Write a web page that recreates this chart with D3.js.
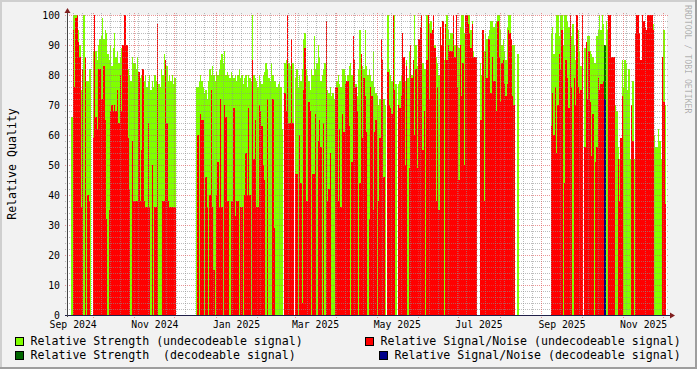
<!DOCTYPE html>
<html>
<head>
<meta charset="utf-8">
<script src="https://cdn.jsdelivr.net/npm/d3@7"></script>
<style>
  body { margin: 0; background: #f2f2f2; }
  svg { display: block; font-family: "DejaVu Sans Mono", monospace; }
</style>
</head>
<body>
<svg id="chart" width="697" height="369"></svg>
<script>
// one value per day, day 0 = 2024-09-12 (UTC), null = no data
let strength = [
  null, null, null, 66, 100, 100, 100, 100, 95, 90,
  75, 80, 100, 86, 78, 78, 82, 82, null, 88,
  100, 88, 85, 90, 92, 93, 99, 92, 95, 94,
  87, 85, 90, 83, 89, 94, 86, 88, 84, 86,
  89, 90, 86, 100, 88, 82, 80, 78, 86, 84,
  84, 82, 86, 80, 79, 80, 82, 78, 80, 76,
  78, 80, 75, 78, 76, 80, 78, 76, 77, 76,
  82, 80, 87, 84, 83, 78, 80, 78, 80, 77,
  79, null, null, null, null, null, null, null, null, null,
  null, null, null, null, null, null, 76, 76, 78, 80,
  78, 76, 74, 75, 72, 78, 82, 80, 83, 80,
  78, 81, 80, 82, 85, 87, 84, 88, 80, 81,
  80, 79, 81, 80, 79, 80, 78, 80, 82, 79,
  80, 77, 79, 80, 76, 80, 79, 78, 100, 80,
  79, 78, 76, 80, 78, 77, 80, 81, 84, 82,
  79, 78, 84, 80, 78, 78, 76, 77, 78, 76,
  62, null, 84, 85, 100, 84, 83, 87, 84, null,
  79, 82, 76, 80, 78, 82, 92, 94, 82, 80,
  78, 75, 82, 80, 93, 82, 84, 90, 86, 78,
  80, 82, 84, 78, 75, 74, 76, 73, 74, 72,
  76, 78, 80, 77, 76, 82, 82, 80, 78, 80,
  83, 84, 80, 78, 82, 77, 73, 82, 95, 80,
  83, 82, 95, 83, 80, 82, 80, 78, 88, 76,
  74, 73, 70, 72, 68, 73, 72, 70, null, 100,
  82, 80, 78, 79, 100, 77, null, 77, 78, 80,
  75, 81, 78, 85, 79, 88, 82, 80, 85, 100,
  90, 83, 79, 75, 85, 84, 82, 82, 100, 95,
  97, 98, 85, 100, 90, 86, 84, 80, 82, 75,
  88, 85, 80, 100, 95, 92, 94, 94, 100, 90,
  96, 90, 89, 96, 100, 100, 94, 100, 100, 100,
  100, 95, 98, 88, 86, 86, null, null, 84, 80,
  93, 88, 94, 92, 93, 95, 98, 98, 96, 97,
  98, 100, 100, 95, 90, 92, 88, 85, 96, 100,
  100, 92, 90, 90, null, null, 87, null, null, null,
  null, null, null, null, null, null, null, null, null, null,
  null, null, null, null, null, null, null, null, null, null,
  null, 94, 96, 87, 94, 100, 100, 93, 100, 100,
  90, 100, 100, 98, 96, 100, 93, 97, 90, 85,
  100, 95, 88, 83, 85, null, 89, 89, 93, 93,
  88, 87, 86, 84, 84, 93, 95, 100, 95, 100,
  97, null, 98, 95, 90, 86, 85, 80, 78, 70,
  68, 56, 52, 56, 85, 76, 85, 84, 75, 82,
  52, 57, 78, 52, 94, 100, 100, 86, 80, 100,
  96, 95, 94, 100, 98, 96, 100, 97, 60, 56,
  56, 62, 58, 52, 86, 95, 70
];

let snr = [
  null, null, null, null, 95, 76, 99, 100, 91, 86,
  36, 82, null, 86, null, 40, 38, null, null, 59,
  100, 66, 62, 82, 82, 72, 72, 83, 65, 32,
  null, 35, 68, 70, 68, 70, 68, 75, 64, 80,
  68, 90, 100, 100, 90, 59, 42, null, 58, 38,
  38, 38, 38, 81, 38, 55, 82, 38, 36, 36,
  64, 36, null, 50, null, 36, 36, 97, null, null,
  null, 38, 38, 85, 64, 38, 36, 36, 36, 36,
  36, null, null, null, null, null, null, null, null, null,
  null, null, null, null, null, null, null, 60, null, 67,
  65, 65, null, 46, 36, null, 40, 75, 36, 15,
  null, 40, 51, 36, 72, 36, null, 70, 66, 38,
  38, null, 38, 38, 69, 33, 38, 38, null, 36,
  36, null, 40, 54, 40, 69, 40, null, 85, 52,
  65, 36, 36, 70, 68, 63, 50, 45, null, 72,
  null, null, null, 72, 29, null, null, null, null, null,
  null, null, 74, 68, 100, 64, 64, 92, 64, null,
  47, 47, null, 60, 44, 4, 75, 89, 38, 38,
  71, 68, null, 47, 47, 67, null, 58, 65, 56,
  null, 64, null, 98, 38, 42, 54, null, null, null,
  76, 76, 38, 62, 36, 67, 61, 77, 78, 78,
  63, null, 51, 93, 85, 76, 68, null, 44, 87,
  59, 79, 73, 61, null, 32, 76, 73, 35, 61,
  65, null, 38, 59, 92, 85, 46, null, null, 81,
  70, 69, 67, 100, 75, null, null, 70, 69, 73,
  94, 86, 50, 83, null, 49, 90, 79, 85, 60,
  82, 49, 92, 96, 100, 55, 68, null, 85, 100,
  72, 94, 95, 100, 89, 38, 76, 35, 96, 90,
  98, null, 97, 85, 90, 88, 88, 88, 100, 86,
  100, 76, 45, 90, 73, 84, 50, 100, 100, 97,
  94, 89, 97, 86, 86, 86, null, null, 65, 65,
  95, 38, 88, 79, 92, 92, 74, 86, 78, 78,
  68, 98, 86, 71, 84, 85, 77, 73, 77, 95,
  94, 92, 73, 70, null, null, null, null, null, null,
  null, null, null, null, null, null, null, null, null, null,
  null, null, null, null, null, null, null, null, null, null,
  null, 63, 74, 60, 76, 54, 70, 87, 82, 95,
  null, 44, 85, 79, 69, 100, 76, null, 79, 70,
  100, 76, 74, 75, 100, null, 56, 91, 72, 88,
  71, 53, 67, null, 51, 56, 79, 75, 77, 77,
  78, null, null, null, 100, 100, 86, 86, 86, null,
  null, 52, 38, 59, 73, null, null, null, null, null,
  null, 70, 58, null, 94, 100, 100, 94, 85, 100,
  98, 96, 95, 100, 100, 100, 100, 95, null, null,
  null, null, null, null, 86, 71, 37
];

// decodeable signal, only one day has it
let decodedDays = [401];
let strengthDecoded = [90];
let snrDecoded = [72];

let monthLabels = ["2024-09", "2024-11", "2025-01", "2025-03", "2025-05", "2025-07", "2025-09", "2025-11"];
let yTicks = [0, 10, 20, 30, 40, 50, 60, 70, 80, 90, 100];

let legendNames = [
  "Relative Strength (undecodeable signal)",
  "Relative Signal/Noise (undecodeable signal)",
  "Relative Strength  (decodeable signal)",
  "Relative Signal/Noise (decodeable signal)"
];
let seriesColors = ["#80ff00", "#ff0000", "#006600", "#000088"];

//layout
let W = 697, H = 369;
let plotL = 67, plotR = 667, plotT = 15, plotB = 315;
let dayMs = 864e5;
let firstDay = Date.UTC(2024, 8, 12);
let viewStart = Date.UTC(2024, 8, 11, 19);
let spanDays = 448;

let svg = d3.select("#chart");

let x = d3.scaleUtc()
    .domain([new Date(viewStart), new Date(viewStart + spanDays * dayMs)])
    .range([plotL, plotR]);

let y = d3.scaleLinear()
    .domain([0, 100])
    .range([plotB, plotT]);

function dayDate(d) { return new Date(firstDay + d * dayMs); }

//background + bevel
svg.append("rect").attr("width", W).attr("height", H).attr("fill", "#f2f2f2");
svg.append("rect").attr("x", 0).attr("y", 0).attr("width", W).attr("height", 2).attr("fill", "#cfcfcf");
svg.append("rect").attr("x", 0).attr("y", 0).attr("width", 2).attr("height", H).attr("fill", "#cfcfcf");
svg.append("rect").attr("x", 0).attr("y", H - 2).attr("width", W).attr("height", 2).attr("fill", "#9e9e9e");
svg.append("rect").attr("x", W - 2).attr("y", 0).attr("width", 2).attr("height", H).attr("fill", "#9e9e9e");

//canvas
svg.append("rect")
    .attr("x", plotL).attr("y", plotT)
    .attr("width", plotR - plotL).attr("height", plotB - plotT)
    .attr("fill", "#ffffff");

let bars = svg.append("g").attr("shape-rendering", "crispEdges");

function drawSeries(values, days, color) {
    let items = values
        .map(function(v, i) { return { day: days ? days[i] : i, v: v }; })
        .filter(function(d) { return d.v != null; });

    bars.append("g").selectAll("rect")
        .data(items)
        .enter()
        .append("rect")
        .attr("x", function(d) { return Math.round(x(dayDate(d.day))); })
        .attr("width", function(d) {
            return Math.max(1, Math.round(x(dayDate(d.day + 1))) - Math.round(x(dayDate(d.day))));
        })
        .attr("y", function(d) { return Math.round(y(d.v)); })
        .attr("height", function(d) { return plotB - Math.round(y(d.v)); })
        .attr("fill", color);
}

drawSeries(strength, null, seriesColors[0]);
drawSeries(snr, null, seriesColors[1]);
drawSeries(strengthDecoded, decodedDays, seriesColors[2]);
drawSeries(snrDecoded, decodedDays, seriesColors[3]);

//grid on top
let minorCol = "rgba(143,143,143,0.6)";
let majorCol = "rgba(222,79,79,0.6)";
let grid = svg.append("g").attr("fill", "none").attr("stroke-width", 1);

let months = d3.utcMonth.range(x.domain()[0], x.domain()[1]);
let monthX = months.map(function(m) { return Math.round(x(m)); });
let weeks = d3.utcMonday.range(x.domain()[0], x.domain()[1])
    .filter(function(w) { return monthX.indexOf(Math.round(x(w))) < 0; });

grid.selectAll(".wk")
    .data(weeks)
    .enter()
    .append("line")
    .attr("x1", function(d) { return Math.round(x(d)) + 0.5; })
    .attr("x2", function(d) { return Math.round(x(d)) + 0.5; })
    .attr("y1", plotT - 2)
    .attr("y2", plotB + 2)
    .attr("stroke", minorCol)
    .attr("stroke-dasharray", "1,1");

let yMinor = d3.range(2, 100, 2).filter(function(v) { return v % 10 != 0; });
grid.selectAll(".ym")
    .data(yMinor)
    .enter()
    .append("line")
    .attr("x1", plotL - 2)
    .attr("x2", plotR + 2)
    .attr("y1", function(d) { return y(d) + 0.5; })
    .attr("y2", function(d) { return y(d) + 0.5; })
    .attr("stroke", minorCol)
    .attr("stroke-dasharray", "1,1");

grid.selectAll(".mo")
    .data(months)
    .enter()
    .append("line")
    .attr("x1", function(d) { return Math.round(x(d)) + 0.5; })
    .attr("x2", function(d) { return Math.round(x(d)) + 0.5; })
    .attr("y1", plotT - 2)
    .attr("y2", plotB + 3)
    .attr("stroke", majorCol)
    .attr("stroke-dasharray", "1,1");

grid.selectAll(".yM")
    .data(yTicks.filter(function(v) { return v > 0; }))
    .enter()
    .append("line")
    .attr("x1", plotL - 2)
    .attr("x2", plotR + 2)
    .attr("y1", function(d) { return y(d) + 0.5; })
    .attr("y2", function(d) { return y(d) + 0.5; })
    .attr("stroke", majorCol)
    .attr("stroke-dasharray", "1,1");

//axis lines + arrows
svg.append("line")
    .attr("x1", plotL - 2).attr("x2", plotR + 4)
    .attr("y1", plotB + 0.5).attr("y2", plotB + 0.5)
    .attr("stroke", "#20204a");
svg.append("line")
    .attr("x1", plotL + 0.5).attr("x2", plotL + 0.5)
    .attr("y1", plotB + 2).attr("y2", plotT - 4)
    .attr("stroke", "#444444");
svg.append("path")
    .attr("d", `M${plotR + 3},${plotB - 2.5}L${plotR + 8},${plotB + 0.5}L${plotR + 3},${plotB + 3.5}Z`)
    .attr("fill", "#801f1f");
svg.append("path")
    .attr("d", `M${plotL - 2.5},${plotT - 2}L${plotL + 0.5},${plotT - 7}L${plotL + 3.5},${plotT - 2}Z`)
    .attr("fill", "#801f1f");

//tick labels
let fmt = d3.utcFormat("%b %Y");
let xAxis = d3.axisBottom(x)
    .tickValues(monthLabels.map(function(m) {
        let p = m.split("-");
        return new Date(Date.UTC(+p[0], +p[1] - 1, 1) + 15 * dayMs);
    }))
    .tickFormat(fmt)
    .tickSize(0)
    .tickPadding(6);

let gx = svg.append("g")
    .attr("transform", `translate(0,${plotB})`)
    .call(xAxis);
gx.select(".domain").remove();
gx.selectAll("text")
    .attr("font-family", "DejaVu Sans Mono")
    .attr("font-size", "9.8px")
    .attr("fill", "#000");

let yAxis = d3.axisLeft(y)
    .tickValues(yTicks)
    .tickSize(0)
    .tickPadding(7);

let gy = svg.append("g")
    .attr("transform", `translate(${plotL},0)`)
    .call(yAxis);
gy.select(".domain").remove();
gy.selectAll("text")
    .attr("font-family", "DejaVu Sans Mono")
    .attr("font-size", "9.8px")
    .attr("fill", "#000");

//vertical title
svg.append("text")
    .attr("transform", "translate(16,164) rotate(-90)")
    .attr("text-anchor", "middle")
    .attr("font-size", "11.6px")
    .attr("fill", "#000")
    .text("Relative Quality");

//watermark
svg.append("text")
    .attr("transform", "translate(684.5,5) rotate(90)")
    .attr("font-size", "8.2px")
    .attr("fill", "rgba(0,0,0,0.3)")
    .text("RRDTOOL / TOBI OETIKER");

//legend
let legendPos = [
    { bx: 15, ty: 345 },
    { bx: 365, ty: 345 },
    { bx: 15, ty: 359 },
    { bx: 379, ty: 359 }
];

let legend = svg.append("g")
    .selectAll("g")
    .data(legendNames)
    .enter()
    .append("g");

legend.append("rect")
    .attr("x", function(d, i) { return legendPos[i].bx + 0.5; })
    .attr("y", function(d, i) { return legendPos[i].ty - 7.5; })
    .attr("width", 8)
    .attr("height", 8)
    .attr("fill", function(d, i) { return seriesColors[i]; })
    .attr("stroke", "#000")
    .attr("stroke-width", 1);

legend.append("text")
    .attr("x", function(d, i) { return legendPos[i].bx + 15.5; })
    .attr("y", function(d, i) { return legendPos[i].ty; })
    .attr("font-size", "11.6px")
    .attr("fill", "#000")
    .style("white-space", "pre")
    .text(function(d) { return d; });
</script>
</body>
</html>
